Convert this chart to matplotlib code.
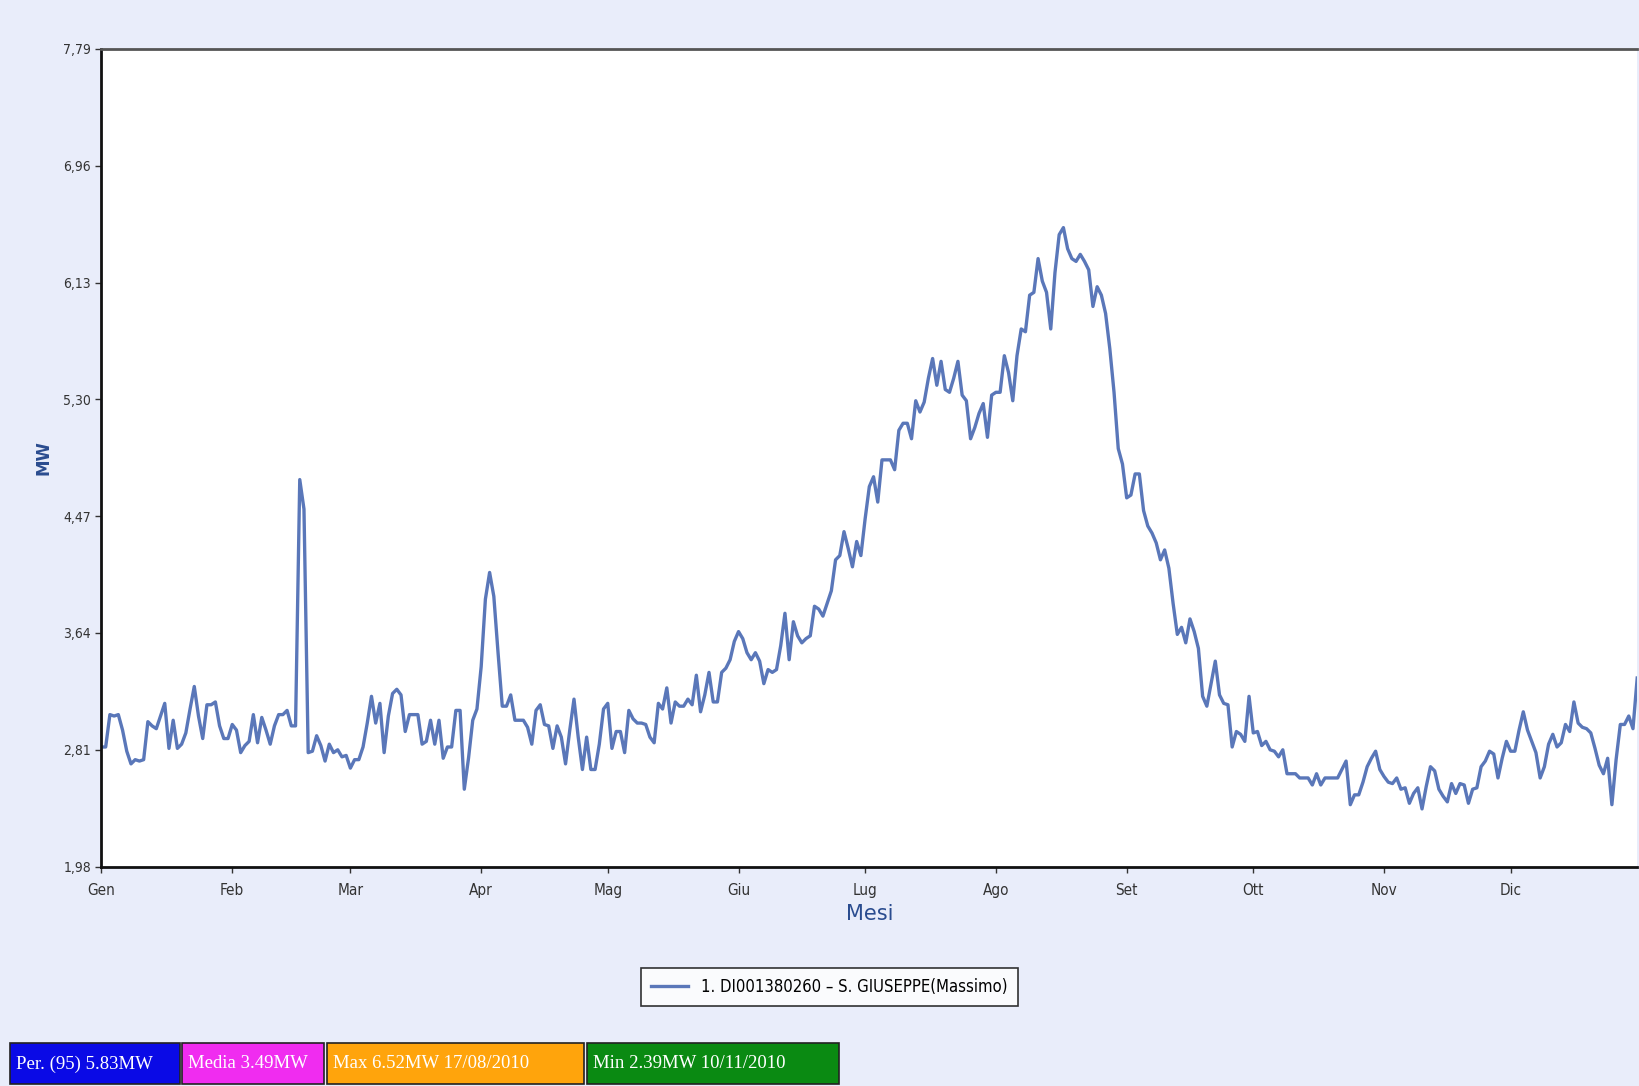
import matplotlib
matplotlib.use("Agg")
import matplotlib.pyplot as plt
import matplotlib.dates as mdates
import pandas as pd
import numpy as np

# daily peak power (MW), one list per month
gen = [2.83, 2.83, 3.06, 3.05, 3.06, 2.95, 2.80, 2.71, 2.74, 2.73, 2.74, 3.01, 2.98, 2.96, 3.05, 3.14,
       2.82, 3.02, 2.82, 2.85, 2.93, 3.10, 3.26, 3.05, 2.89, 3.13, 3.13, 3.15, 2.98, 2.89, 2.89]
feb = [2.99, 2.95, 2.79, 2.84, 2.87, 3.06, 2.86, 3.04, 2.95, 2.85, 2.98, 3.06, 3.06, 3.09, 2.98, 2.98,
       4.73, 4.52, 2.79, 2.80, 2.91, 2.84, 2.73, 2.85, 2.79, 2.81, 2.76, 2.77]
mar = [2.68, 2.74, 2.74, 2.83, 3.00, 3.19, 3.00, 3.14, 2.79, 3.05, 3.21, 3.24, 3.20, 2.94, 3.06, 3.06,
       3.06, 2.85, 2.87, 3.02, 2.85, 3.02, 2.75, 2.83, 2.83, 3.09, 3.09, 2.53, 2.75, 3.02, 3.10]
apr = [3.40, 3.88, 4.07, 3.90, 3.50, 3.12, 3.12, 3.20, 3.02, 3.02, 3.02, 2.97, 2.85, 3.09, 3.13, 2.99,
       2.98, 2.82, 2.98, 2.90, 2.71, 2.95, 3.17, 2.90, 2.67, 2.90, 2.67, 2.67, 2.85, 3.10]
mag = [3.14, 2.82, 2.94, 2.94, 2.79, 3.09, 3.03, 3.00, 3.00, 2.99, 2.90, 2.86, 3.14, 3.10, 3.25, 3.00,
       3.15, 3.12, 3.12, 3.17, 3.13, 3.34, 3.08, 3.20, 3.36, 3.15, 3.15, 3.36, 3.39, 3.45, 3.58]
giu = [3.65, 3.60, 3.50, 3.45, 3.50, 3.44, 3.28, 3.38, 3.36, 3.38, 3.55, 3.78, 3.45, 3.72, 3.62, 3.57,
       3.60, 3.62, 3.83, 3.81, 3.76, 3.85, 3.94, 4.16, 4.19, 4.36, 4.24, 4.11, 4.29, 4.19]
lug = [4.45, 4.68, 4.75, 4.57, 4.87, 4.87, 4.87, 4.80, 5.08, 5.13, 5.13, 5.02, 5.29, 5.21, 5.28, 5.45,
       5.59, 5.40, 5.57, 5.37, 5.35, 5.45, 5.57, 5.33, 5.29, 5.02, 5.10, 5.20, 5.27, 5.03, 5.33]
ago = [5.35, 5.35, 5.61, 5.49, 5.29, 5.61, 5.80, 5.78, 6.04, 6.06, 6.30, 6.14, 6.06, 5.80, 6.20, 6.47,
       6.52, 6.37, 6.30, 6.28, 6.33, 6.28, 6.22, 5.96, 6.10, 6.04, 5.91, 5.66, 5.35, 4.95, 4.84]
sett = [4.60, 4.62, 4.77, 4.77, 4.51, 4.40, 4.35, 4.28, 4.16, 4.23, 4.10, 3.85, 3.63, 3.68, 3.57, 3.74,
        3.65, 3.53, 3.19, 3.12, 3.28, 3.44, 3.20, 3.14, 3.13, 2.83, 2.94, 2.92, 2.87, 3.19]
ott = [2.93, 2.94, 2.84, 2.87, 2.81, 2.80, 2.76, 2.81, 2.64, 2.64, 2.64, 2.61, 2.61, 2.61, 2.56, 2.64,
       2.56, 2.61, 2.61, 2.61, 2.61, 2.67, 2.73, 2.42, 2.49, 2.49, 2.58, 2.69, 2.75, 2.80, 2.67]
nov = [2.62, 2.58, 2.57, 2.61, 2.53, 2.54, 2.43, 2.50, 2.54, 2.39, 2.55, 2.69, 2.66, 2.53, 2.48, 2.44,
       2.57, 2.50, 2.57, 2.56, 2.43, 2.53, 2.54, 2.69, 2.73, 2.80, 2.78, 2.61, 2.75, 2.87]
dic = [2.80, 2.80, 2.95, 3.08, 2.95, 2.87, 2.79, 2.61, 2.69, 2.85, 2.92, 2.83, 2.86, 2.99, 2.94, 3.15,
       3.00, 2.97, 2.96, 2.93, 2.82, 2.70, 2.64, 2.75, 2.42, 2.74, 2.99, 2.99, 3.05, 2.96, 3.32]

mesi = ["Gen", "Feb", "Mar", "Apr", "Mag", "Giu", "Lug", "Ago", "Set", "Ott", "Nov", "Dic"]
yticks = [1.98, 2.81, 3.64, 4.47, 5.30, 6.13, 6.96, 7.79]
serie = "1. DI001380260 \u2013 S. GIUSEPPE(Massimo)"
box_texts = ["Per. (95) 5.83MW", "Media 3.49MW", "Max 6.52MW 17/08/2010", "Min 2.39MW 10/11/2010"]
box_colors = ["#0a0ae6", "#f02cf0", "#ffa40c", "#0a8a12"]

valori = gen + feb + mar + apr + mag + giu + lug + ago + sett + ott + nov + dic
giorni = pd.date_range("2010-01-01", "2010-12-31", freq="D")

bg = "#e9edfa"
narrow = ["Liberation Sans Narrow", "DejaVu Sans"]

fig = plt.figure(figsize=(16.39, 10.86), dpi=100, facecolor=bg)
ax = fig.add_axes([0.0619, 0.202, 0.937, 0.753])
ax.set_facecolor("white")

ax.plot(giorni, valori, color="#5a77b9", lw=2.4, label=serie)

ax.set_xlim(giorni[0], giorni[-1])
ax.set_ylim(yticks[0], yticks[-1])
ax.set_yticks(yticks)
ax.set_yticklabels([("%.2f" % v).replace(".", ",") for v in yticks], family=narrow,
                   fontstretch="condensed", fontsize=10, color="#333333")
ax.set_xticks(pd.date_range("2010-01-01", periods=12, freq="MS"))
ax.set_xticklabels(mesi, family=narrow, fontstretch="condensed", fontsize=11, color="#333333")
ax.tick_params(axis="both", length=4, width=1, color="#333333")
ax.tick_params(axis="x", pad=8)

for s in ["left", "bottom"]:
    ax.spines[s].set_linewidth(2)
    ax.spines[s].set_color("#111111")
ax.spines["top"].set_linewidth(2)
ax.spines["top"].set_color("#555555")
ax.spines["right"].set_visible(False)

ax.set_xlabel("Mesi", fontsize=15, color="#2a4c8f", labelpad=4)
ax.set_ylabel("MW", fontsize=12, color="#2a4c8f", fontweight="bold", labelpad=8)

leg = fig.legend(loc="center", bbox_to_anchor=(0.506, 0.091), frameon=True, fancybox=False,
                 prop={"family": narrow, "size": 12, "stretch": "condensed"},
                 handlelength=2.2, borderpad=0.6)
leg.get_frame().set_edgecolor("black")
leg.get_frame().set_linewidth(1.2)

# summary boxes at the bottom
lefts = [10, 182, 327, 587]
rights = [180, 324, 584, 839]
for t, c, l, r in zip(box_texts, box_colors, lefts, rights):
    fig.patches.append(plt.Rectangle((l / 1639, 2 / 1086), (r - l) / 1639, 41 / 1086,
                                     transform=fig.transFigure, facecolor=c, edgecolor="#222222", lw=1.2))
    fig.text((l + 6) / 1639, 22 / 1086, t, color="white", fontsize=13.5, va="center",
             family=["Liberation Serif", "DejaVu Serif"], fontstretch="condensed")

fig.savefig("out.png", dpi=100, facecolor=bg)
